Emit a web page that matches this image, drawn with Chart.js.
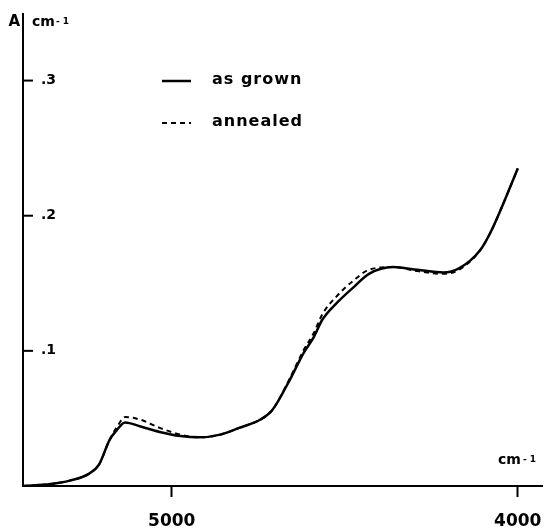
<!DOCTYPE html>
<html>
<head>
<meta charset="utf-8">
<script src="https://cdn.jsdelivr.net/npm/chart.js@4"></script>
<style>
  html, body { margin: 0; padding: 0; background: #fff; }
  #wrap { width: 545px; height: 529px; }
</style>
</head>
<body>
<div id="wrap"><canvas id="myChart" width="545" height="529"></canvas></div>
<script>
// wavenumber (cm-1), decreasing to the right
const wavenumbers = [5430, 5350, 5295, 5240, 5210, 5180, 5160, 5135, 5090, 5035, 4975, 4920, 4860, 4805, 4745, 4710, 4660, 4620, 4590, 4565, 4525, 4475, 4430, 4360, 4290, 4215, 4170, 4110, 4080, 4050, 4000];
const asGrown  = [0.000, 0.0015, 0.004, 0.009, 0.016, 0.034, 0.041, 0.047, 0.044, 0.040, 0.037, 0.036, 0.038, 0.043, 0.049, 0.056, 0.078, 0.098, 0.110, 0.123, 0.135, 0.147, 0.157, 0.162, 0.160, 0.158, 0.161, 0.174, 0.187, 0.204, 0.235];
const annealed = [0.000, 0.0015, 0.004, 0.009, 0.016, 0.034, 0.043, 0.051, 0.049, 0.043, 0.038, 0.036, 0.038, 0.043, 0.049, 0.056, 0.079, 0.100, 0.113, 0.127, 0.140, 0.152, 0.160, 0.162, 0.159, 0.157, 0.160, 0.174, 0.187, 0.204, 0.235];
const xTicks = [5000, 4000];
const yTicks = [0.1, 0.2, 0.3];
const legendLabels = ['as grown', 'annealed'];

const FONT = '"DejaVu Sans", sans-serif';

function toPoints(xs, ys) {
    return xs.map((x, i) => ({ x: x, y: ys[i] }));
}

// axis extras: y ticks pointing inward, unit labels, legend
const extras = {
    id: 'extras',
    afterDraw(chart) {
        const c = chart.ctx;
        const ys = chart.scales.y;
        const area = chart.chartArea;
        c.save();
        c.strokeStyle = '#000';
        c.fillStyle = '#000';
        c.lineWidth = 2;
        // y axis line
        c.beginPath();
        c.moveTo(area.left, area.top);
        c.lineTo(area.left, area.bottom);
        c.stroke();
        // y ticks pointing right
        yTicks.forEach(v => {
            const py = ys.getPixelForValue(v);
            c.beginPath();
            c.moveTo(area.left, py);
            c.lineTo(area.left + 10, py);
            c.stroke();
        });
        // unit labels
        c.textBaseline = 'middle';
        c.font = 'bold 15px ' + FONT;
        c.textAlign = 'right';
        c.fillText('A', area.left - 3, 22);
        c.textAlign = 'left';
        c.font = 'bold 14px ' + FONT;
        c.fillText('cm', area.left + 9, 22);
        c.font = 'bold 9px ' + FONT;
        c.fillText('- 1', area.left + 33, 22);

        c.font = 'bold 14px ' + FONT;
        c.fillText('cm', 498, 460);
        c.font = 'bold 9px ' + FONT;
        c.fillText('- 1', 523, 460);

        // legend
        const rows = [81, 123];
        chart.data.datasets.forEach((ds, i) => {
            c.lineWidth = ds.borderWidth;
            c.setLineDash(ds.borderDash || []);
            c.beginPath();
            c.moveTo(162, rows[i]);
            c.lineTo(191, rows[i]);
            c.stroke();
            c.setLineDash([]);
            c.font = 'bold 16px ' + FONT;
            c.letterSpacing = '1px';
            c.fillText(legendLabels[i], 212, rows[i] - 1);
            c.letterSpacing = '0px';
        });
        c.restore();
    }
};

const ctx = document.getElementById('myChart');

new Chart(ctx, {
    type: 'line',
    data: {
        datasets: [{
                label: legendLabels[0],
                data: toPoints(wavenumbers, asGrown),
                borderColor: '#000',
                borderWidth: 2.5,
                pointRadius: 0,
                cubicInterpolationMode: 'monotone'
            }, {
                label: legendLabels[1],
                data: toPoints(wavenumbers, annealed),
                borderColor: '#000',
                borderWidth: 2,
                borderDash: [5, 4],
                pointRadius: 0,
                cubicInterpolationMode: 'monotone'
            }]
    },
    options: {
        responsive: false,
        animation: false,
        layout: { padding: { left: 23, top: 13, right: 3, bottom: 0 } },
        plugins: {
            legend: { display: false },
            tooltip: { enabled: false }
        },
        scales: {
            x: {
                type: 'linear',
                reverse: true,
                min: 3930,
                max: 5430,
                afterBuildTicks: (axis) => { axis.ticks = xTicks.map(v => ({ value: v })); },
                afterFit: (axis) => {
                    axis.paddingLeft = 0;
                    axis.paddingRight = 0;
                    axis.height = 43;
                },
                grid: {
                    drawOnChartArea: false,
                    drawTicks: true,
                    tickLength: 11,
                    tickWidth: 2,
                    color: '#000'
                },
                border: { display: true, color: '#000', width: 2 },
                ticks: {
                    color: '#000',
                    padding: 14,
                    maxRotation: 0,
                    font: { family: FONT, size: 17, weight: 'bold' },
                    callback: (v) => String(v)
                }
            },
            y: {
                min: 0,
                max: 0.35,
                afterBuildTicks: (axis) => { axis.ticks = yTicks.map(v => ({ value: v })); },
                afterFit: (axis) => {
                    axis.width = 0;
                    axis.paddingTop = 0;
                    axis.paddingBottom = 0;
                },
                grid: { display: false, drawTicks: false },
                border: { display: false },
                ticks: {
                    mirror: true,
                    padding: 18,
                    color: '#000',
                    font: { family: FONT, size: 14, weight: 'bold' },
                    callback: (v) => v.toFixed(1).replace(/^0/, '')
                }
            }
        }
    },
    plugins: [extras]
});
</script>
</body>
</html>
